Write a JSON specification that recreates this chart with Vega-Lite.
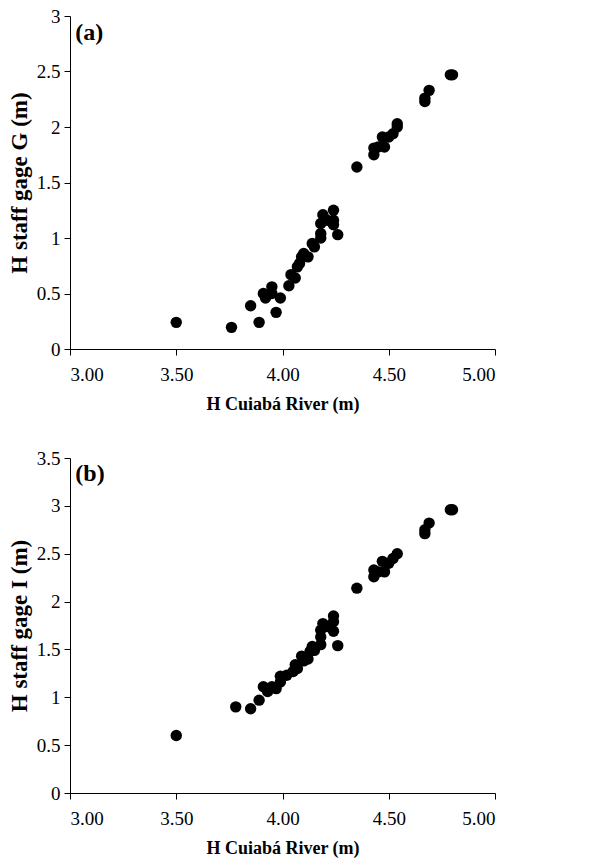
{
  "$schema": "https://vega.github.io/schema/vega-lite/v6.json",
  "background": "white",
  "padding": {"left": 8, "top": 7, "right": 10, "bottom": 5},
  "spacing": 36,
  "config": {
    "view": {"stroke": null},
    "font": "Liberation Serif",
    "axis": {
      "grid": false,
      "domainColor": "black",
      "tickColor": "black",
      "domainWidth": 1,
      "tickWidth": 1,
      "tickSize": 6,
      "labelFont": "Liberation Serif",
      "labelFontSize": 19,
      "labelColor": "black",
      "titleFont": "Liberation Serif",
      "titleFontSize": 18,
      "titleFontWeight": "bold",
      "titleColor": "black"
    },
    "axisX": {"labelPadding": 10, "titlePadding": 11},
    "axisY": {"labelPadding": 4, "titlePadding": 5, "titleFontSize": 23}
  },
  "datasets": {
    "a": [
      {"h": 3.50, "g": 0.24}, {"h": 3.76, "g": 0.195}, {"h": 3.85, "g": 0.39}, {"h": 3.89, "g": 0.24},
      {"h": 3.91, "g": 0.50}, {"h": 3.92, "g": 0.46}, {"h": 3.95, "g": 0.56}, {"h": 3.95, "g": 0.50},
      {"h": 3.97, "g": 0.33}, {"h": 3.99, "g": 0.46}, {"h": 4.03, "g": 0.57}, {"h": 4.04, "g": 0.67},
      {"h": 4.06, "g": 0.64}, {"h": 4.07, "g": 0.74}, {"h": 4.08, "g": 0.77}, {"h": 4.09, "g": 0.83},
      {"h": 4.10, "g": 0.86}, {"h": 4.12, "g": 0.83}, {"h": 4.14, "g": 0.95}, {"h": 4.15, "g": 0.92},
      {"h": 4.18, "g": 1.00}, {"h": 4.18, "g": 1.04}, {"h": 4.18, "g": 1.13}, {"h": 4.19, "g": 1.21},
      {"h": 4.21, "g": 1.16}, {"h": 4.24, "g": 1.16}, {"h": 4.24, "g": 1.25}, {"h": 4.24, "g": 1.12},
      {"h": 4.26, "g": 1.03}, {"h": 4.35, "g": 1.64}, {"h": 4.43, "g": 1.75}, {"h": 4.43, "g": 1.81},
      {"h": 4.45, "g": 1.82}, {"h": 4.48, "g": 1.82}, {"h": 4.47, "g": 1.91}, {"h": 4.50, "g": 1.91},
      {"h": 4.52, "g": 1.94}, {"h": 4.54, "g": 2.00}, {"h": 4.54, "g": 2.03}, {"h": 4.67, "g": 2.23},
      {"h": 4.67, "g": 2.26}, {"h": 4.69, "g": 2.33}, {"h": 4.79, "g": 2.47}, {"h": 4.80, "g": 2.47}
    ],
    "b": [
      {"h": 3.50, "i": 0.60}, {"h": 3.78, "i": 0.90}, {"h": 3.85, "i": 0.88}, {"h": 3.89, "i": 0.97},
      {"h": 3.91, "i": 1.11}, {"h": 3.93, "i": 1.06}, {"h": 3.95, "i": 1.11}, {"h": 3.97, "i": 1.09},
      {"h": 3.99, "i": 1.16}, {"h": 3.99, "i": 1.22}, {"h": 4.02, "i": 1.23}, {"h": 4.05, "i": 1.27},
      {"h": 4.06, "i": 1.34}, {"h": 4.07, "i": 1.30}, {"h": 4.09, "i": 1.43}, {"h": 4.10, "i": 1.38},
      {"h": 4.12, "i": 1.40}, {"h": 4.13, "i": 1.48}, {"h": 4.14, "i": 1.53}, {"h": 4.15, "i": 1.49},
      {"h": 4.18, "i": 1.55}, {"h": 4.18, "i": 1.63}, {"h": 4.18, "i": 1.70}, {"h": 4.19, "i": 1.77},
      {"h": 4.21, "i": 1.74}, {"h": 4.24, "i": 1.69}, {"h": 4.24, "i": 1.79}, {"h": 4.24, "i": 1.85},
      {"h": 4.26, "i": 1.54}, {"h": 4.35, "i": 2.14}, {"h": 4.43, "i": 2.26}, {"h": 4.43, "i": 2.33},
      {"h": 4.45, "i": 2.31}, {"h": 4.48, "i": 2.31}, {"h": 4.47, "i": 2.42}, {"h": 4.50, "i": 2.40},
      {"h": 4.52, "i": 2.45}, {"h": 4.54, "i": 2.50}, {"h": 4.67, "i": 2.71}, {"h": 4.67, "i": 2.75},
      {"h": 4.69, "i": 2.82}, {"h": 4.79, "i": 2.96}, {"h": 4.80, "i": 2.96}
    ],
    "labA": [{"h": 3.025, "y": 2.85, "t": "(a)"}],
    "labB": [{"h": 3.025, "y": 3.33, "t": "(b)"}]
  },
  "vconcat": [
    {
      "width": 425,
      "height": 333,
      "layer": [
        {
          "data": {"name": "a"},
          "mark": {"type": "circle", "size": 130, "color": "black", "opacity": 1},
          "encoding": {
            "x": {"field": "h", "type": "quantitative", "scale": {"domain": [3, 5], "nice": false}, "axis": {"values": [3, 3.5, 4, 4.5, 5], "format": ".2f", "title": "H Cuiabá River (m)"}},
            "y": {"field": "g", "type": "quantitative", "scale": {"domain": [0, 3], "nice": false}, "axis": {"values": [0, 0.5, 1, 1.5, 2, 2.5, 3], "format": "~g", "title": "H staff gage G (m)"}}
          }
        },
        {
          "data": {"name": "labA"},
          "mark": {"type": "text", "align": "left", "baseline": "middle", "fontSize": 24, "fontWeight": "bold", "font": "Liberation Serif", "color": "black"},
          "encoding": {
            "x": {"field": "h", "type": "quantitative"},
            "y": {"field": "y", "type": "quantitative"},
            "text": {"field": "t"}
          }
        }
      ]
    },
    {
      "width": 425,
      "height": 335,
      "layer": [
        {
          "data": {"name": "b"},
          "mark": {"type": "circle", "size": 130, "color": "black", "opacity": 1},
          "encoding": {
            "x": {"field": "h", "type": "quantitative", "scale": {"domain": [3, 5], "nice": false}, "axis": {"values": [3, 3.5, 4, 4.5, 5], "format": ".2f", "title": "H Cuiabá River (m)"}},
            "y": {"field": "i", "type": "quantitative", "scale": {"domain": [0, 3.5], "nice": false}, "axis": {"values": [0, 0.5, 1, 1.5, 2, 2.5, 3, 3.5], "format": "~g", "title": "H staff gage I (m)"}}
          }
        },
        {
          "data": {"name": "labB"},
          "mark": {"type": "text", "align": "left", "baseline": "middle", "fontSize": 24, "fontWeight": "bold", "font": "Liberation Serif", "color": "black"},
          "encoding": {
            "x": {"field": "h", "type": "quantitative"},
            "y": {"field": "y", "type": "quantitative"},
            "text": {"field": "t"}
          }
        }
      ]
    }
  ]
}
